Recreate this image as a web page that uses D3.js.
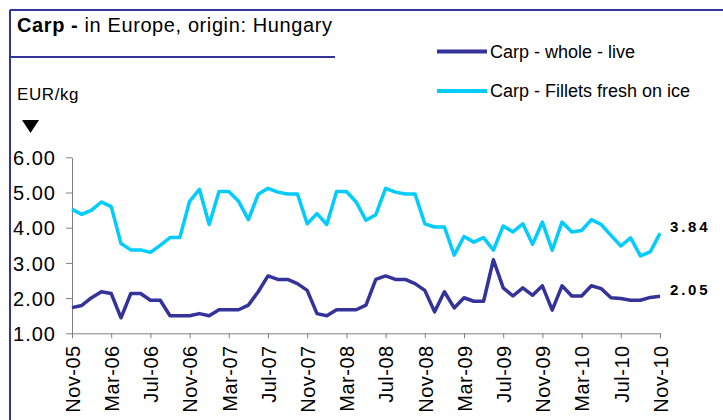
<!DOCTYPE html>
<html>
<head>
<meta charset="utf-8">
<script src="https://cdn.jsdelivr.net/npm/d3@7"></script>
<style>
  body { margin: 0; background: #fff; }
  svg { font-family: "Liberation Sans", Arial, sans-serif; }
  .axis path, .axis line { stroke: #808080; }
</style>
</head>
<body>
<div id="chart"></div>
<script>
// monthly prices, Nov-05 .. Nov-10 (61 months)
var tickLabels = ["Nov-05","Mar-06","Jul-06","Nov-06","Mar-07","Jul-07","Nov-07","Mar-08",
                  "Jul-08","Nov-08","Mar-09","Jul-09","Nov-09","Mar-10","Jul-10","Nov-10"];

var seriesNames = ["Carp - whole - live", "Carp - Fillets fresh on ice"];

var wholeLive = [1.73,1.79,2.01,2.18,2.13,1.44,2.13,2.13,1.94,1.94,1.50,1.50,1.50,
                 1.56,1.50,1.67,1.67,1.67,1.80,2.18,2.63,2.53,2.53,2.41,2.22,
                 1.56,1.50,1.67,1.67,1.67,1.80,2.53,2.63,2.53,2.53,2.41,2.22,
                 1.61,2.18,1.72,2.01,1.91,1.91,3.09,2.29,2.06,2.29,2.08,2.35,
                 1.66,2.35,2.06,2.06,2.35,2.27,2.01,1.99,1.94,1.94,2.02,2.05];

var filletsIce = [4.52,4.38,4.50,4.73,4.60,3.55,3.37,3.37,3.30,3.50,3.72,3.72,4.75,
                  5.09,4.09,5.03,5.03,4.75,4.23,4.95,5.12,5.01,4.96,4.96,4.11,
                  4.40,4.09,5.03,5.03,4.73,4.21,4.37,5.12,5.01,4.96,4.96,4.11,
                  4.02,4.02,3.22,3.75,3.59,3.72,3.36,4.05,3.88,4.11,3.53,4.16,
                  3.36,4.16,3.88,3.92,4.23,4.09,3.78,3.48,3.71,3.20,3.31,3.84];

var yTicks = [1, 2, 3, 4, 5, 6];

(function(){

  var width = 723, height = 420;
  var frameColor = "#333399";
  var colors = ["#333399", "#00ccff"];

  var svg = d3.select("#chart").append("svg")
    .attr("width", width)
    .attr("height", height);

  // frame lines (left + top) and title underline
  svg.append("line").attr("x1", 10).attr("y1", 10).attr("x2", 10).attr("y2", height)
    .attr("stroke", frameColor).attr("stroke-width", 2);
  svg.append("line").attr("x1", 10).attr("y1", 10).attr("x2", width).attr("y2", 10)
    .attr("stroke", frameColor).attr("stroke-width", 2);
  svg.append("line").attr("x1", 10).attr("y1", 57).attr("x2", 335).attr("y2", 57)
    .attr("stroke", frameColor).attr("stroke-width", 2);

  // title
  var title = svg.append("text")
    .attr("x", 17).attr("y", 32)
    .style("font-size", "20px")
    .style("letter-spacing", "0.6px");
  title.append("tspan").style("font-weight", "bold").text("Carp - ");
  title.append("tspan").text("in Europe, origin: Hungary");

  // unit
  svg.append("text")
    .attr("x", 17).attr("y", 100)
    .style("font-size", "17px")
    .style("letter-spacing", "0.6px")
    .text("EUR/kg");
  svg.append("path")
    .attr("d", "M22,120 L39,120 L30.5,133 Z")
    .attr("fill", "#000");

  // scales
  var x = d3.scaleLinear().domain([0, wholeLive.length - 1]).range([72, 660]);
  var y = d3.scaleLinear().domain([1, 6]).range([333.3, 157.3]);

  // y axis
  var yAxis = svg.append("g")
    .attr("class", "axis")
    .attr("transform", "translate(72,0)")
    .call(d3.axisLeft(y).tickValues(yTicks).tickFormat(d3.format(".2f"))
      .tickSizeInner(6).tickSizeOuter(0).tickPadding(10));
  yAxis.selectAll("text")
    .style("font-size", "20px")
    .style("letter-spacing", "1px")
    .style("fill", "#000")
    .attr("dy", "0.36em");

  // x axis, a tick every 4 months
  var xAxis = svg.append("g")
    .attr("class", "axis")
    .attr("transform", "translate(0,333.3)")
    .call(d3.axisBottom(x).tickValues(d3.range(0, wholeLive.length, 4))
      .tickFormat(function(d, i) { return tickLabels[i]; })
      .tickSizeInner(5).tickSizeOuter(0));
  xAxis.selectAll("text")
    .attr("transform", "rotate(-90)")
    .attr("x", -12).attr("y", 0).attr("dy", "0.36em")
    .style("text-anchor", "end")
    .style("font-size", "20px")
    .style("letter-spacing", "0.5px")
    .style("fill", "#000");

  // lines
  var line = d3.line()
    .x(function(d, i) { return x(i); })
    .y(function(d) { return y(d); });

  var series = [wholeLive, filletsIce];

  svg.selectAll(".series")
    .data(series)
    .enter().append("path")
    .attr("class", "series")
    .attr("d", line)
    .attr("fill", "none")
    .attr("stroke", function(d, i) { return colors[i]; })
    .attr("stroke-width", 3.5)
    .attr("stroke-linejoin", "round");

  // last value labels
  svg.selectAll(".last")
    .data(series)
    .enter().append("text")
    .attr("class", "last")
    .attr("x", function(d) { return x(d.length - 1) + 10; })
    .attr("y", function(d) { return y(d[d.length - 1]) - 1; })
    .style("font-size", "15px")
    .style("font-weight", "bold")
    .style("letter-spacing", "2.8px")
    .text(function(d) { return d[d.length - 1].toFixed(2); });

  // legend
  var legend = svg.selectAll(".legend")
    .data(seriesNames)
    .enter().append("g")
    .attr("class", "legend")
    .attr("transform", function(d, i) { return "translate(437," + (51.5 + i * 39.5) + ")"; });
  legend.append("line")
    .attr("x1", 0).attr("x2", 50)
    .attr("stroke", function(d, i) { return colors[i]; })
    .attr("stroke-width", 4);
  legend.append("text")
    .attr("x", 53).attr("y", 6)
    .style("font-size", "18px")
    .text(function(d) { return d; });

})();
</script>
</body>
</html>
